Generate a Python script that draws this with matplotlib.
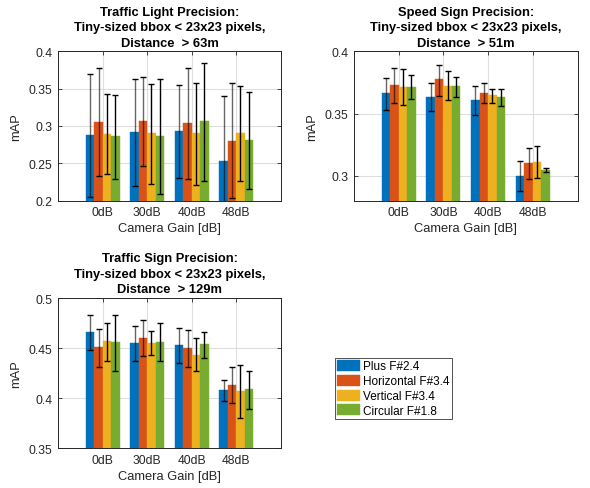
import matplotlib
matplotlib.use("Agg")
import matplotlib.pyplot as plt
import numpy as np

plt.rcParams['font.family'] = ['Liberation Sans', 'DejaVu Sans']

categories = ['0dB', '30dB', '40dB', '48dB']
series_names = ['Plus F#2.4', 'Horizontal F#3.4', 'Vertical F#3.4', 'Circular F#1.8']
colors = ['#0072BD', '#D95319', '#EDB120', '#77AC30']

# Traffic light: values, error-bar upper and lower ends
tl_vals = [[0.288, 0.2915, 0.293, 0.253],
           [0.306, 0.307, 0.304, 0.280],
           [0.289, 0.290, 0.290, 0.291],
           [0.286, 0.287, 0.307, 0.281]]
tl_hi = [[0.369, 0.363, 0.355, 0.340],
         [0.377, 0.366, 0.378, 0.357],
         [0.343, 0.356, 0.358, 0.354],
         [0.341, 0.363, 0.385, 0.345]]
tl_lo = [[0.205, 0.220, 0.230, 0.166],
         [0.233, 0.247, 0.229, 0.203],
         [0.236, 0.223, 0.221, 0.227],
         [0.229, 0.209, 0.227, 0.215]]

# Speed sign
ss_vals = [[0.3665, 0.3633, 0.3606, 0.300],
           [0.3727, 0.3775, 0.3665, 0.3102],
           [0.3716, 0.3724, 0.3646, 0.3113],
           [0.3716, 0.3718, 0.3635, 0.3046]]
ss_hi = [[0.3788, 0.3743, 0.3718, 0.3118],
         [0.3869, 0.3893, 0.3743, 0.3225],
         [0.3855, 0.3839, 0.3697, 0.3241],
         [0.3812, 0.3794, 0.3700, 0.3059]]
ss_lo = [[0.3528, 0.3520, 0.3485, 0.2879],
         [0.3582, 0.3643, 0.3587, 0.2971],
         [0.3568, 0.3606, 0.3587, 0.2981],
         [0.3617, 0.3635, 0.3563, 0.3032]]

# Traffic sign
ts_vals = [[0.4661, 0.4551, 0.4528, 0.4082],
           [0.4511, 0.4601, 0.4504, 0.4135],
           [0.4571, 0.4554, 0.4431, 0.4069],
           [0.4564, 0.4561, 0.4538, 0.4089]]
ts_hi = [[0.4830, 0.4724, 0.4701, 0.4185],
         [0.4694, 0.4780, 0.4681, 0.4315],
         [0.4754, 0.4674, 0.4598, 0.4332],
         [0.4830, 0.4747, 0.4664, 0.4268]]
ts_lo = [[0.4481, 0.4368, 0.4352, 0.3969],
         [0.4315, 0.4418, 0.4315, 0.3952],
         [0.4368, 0.4428, 0.4268, 0.3803],
         [0.4272, 0.4368, 0.4405, 0.3896]]

titles = ['Traffic Light Precision:\nTiny-sized bbox < 23x23 pixels,\nDistance  > 63m',
          'Speed Sign Precision:\nTiny-sized bbox < 23x23 pixels,\nDistance  > 51m',
          'Traffic Sign Precision:\nTiny-sized bbox < 23x23 pixels,\nDistance  > 129m']

dark = (0.15, 0.15, 0.15)

fig = plt.figure(figsize=(5.9, 4.89), dpi=100)
W, H = 590, 489

def make_ax(l, r, t, b):
    return fig.add_axes([l / W, 1 - b / H, (r - l) / W, (b - t) / H])

ax1 = make_ax(58.3, 280.7, 52.3, 201.7)
ax2 = make_ax(354, 577.7, 52.3, 201.7)
ax3 = make_ax(58.3, 280.7, 299, 449.3)

configs = [
    (ax1, tl_vals, tl_hi, tl_lo, (0.2, 0.4), [0.2, 0.25, 0.3, 0.35, 0.4], ['0.2', '0.25', '0.3', '0.35', '0.4'], titles[0]),
    (ax2, ss_vals, ss_hi, ss_lo, (0.28, 0.4), [0.3, 0.35, 0.4], ['0.3', '0.35', '0.4'], titles[1]),
    (ax3, ts_vals, ts_hi, ts_lo, (0.35, 0.5), [0.35, 0.4, 0.45, 0.5], ['0.35', '0.4', '0.45', '0.5'], titles[2]),
]

x = np.arange(1, len(categories) + 1)
bw = 0.19
handles = []
for ax, vals, hi, lo, ylim, yt, ytl, title in configs:
    ax.set_axisbelow(True)
    for i in range(4):
        xs = x + (i - 1.5) * bw
        v = np.array(vals[i])
        h = ax.bar(xs, v, width=bw, color=colors[i], edgecolor=colors[i],
                   linewidth=0.3, zorder=2, label=series_names[i])
        if ax is ax1:
            handles.append(h)
        yerr = np.vstack([v - np.array(lo[i]), np.array(hi[i]) - v])
        alpha = 0.6 if i < 2 else 1.0
        eb = ax.errorbar(xs, v, yerr=yerr, fmt='none', ecolor='black',
                         elinewidth=1.0, capsize=2.0, capthick=1.0, zorder=3)
        for lc in eb[2]:
            lc.set_alpha(alpha)
    ax.set_xlim(0, 5)
    ax.set_ylim(*ylim)
    ax.set_xticks(x)
    ax.set_xticklabels(categories)
    ax.set_yticks(yt)
    ax.set_yticklabels(ytl)
    ax.grid(True, color=(0.87, 0.87, 0.87), linewidth=0.8, zorder=0)
    ax.tick_params(direction='in', length=3, width=0.6, colors=dark,
                   labelsize=8.7, top=True, right=True, labelcolor=dark, pad=4)
    for s in ax.spines.values():
        s.set_color(dark)
        s.set_linewidth(0.7)
    ax.set_xlabel('Camera Gain [dB]', fontsize=9.3, color=dark, labelpad=3)
    ax.set_ylabel('mAP', fontsize=9.3, color=dark, labelpad=5)
    ax.set_title(title, fontsize=9.3, fontweight='bold', color='black',
                 linespacing=1.4, pad=4)

leg = fig.legend(handles=handles, labels=series_names, loc='upper left',
                 bbox_to_anchor=(335 / W, 1 - 358.5 / H), fontsize=8.5,
                 frameon=True, fancybox=False, handlelength=1.95,
                 handleheight=1.05, handletextpad=0.25, labelspacing=0.2,
                 borderpad=0.2, borderaxespad=0.0)
leg.get_frame().set_edgecolor(dark)
leg.get_frame().set_linewidth(0.7)

fig.savefig('out.png', dpi=100)
